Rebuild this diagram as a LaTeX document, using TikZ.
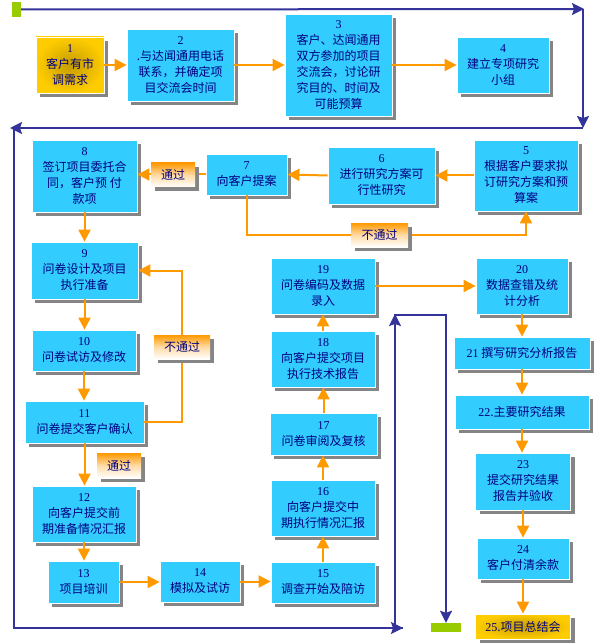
\documentclass[tikz,border=0pt]{standalone}
\usepackage{fontspec}
\setmainfont{Liberation Serif}
\newfontfamily\cjk{Noto Sans CJK SC}
\newfontfamily\numf{Liberation Serif}
\usetikzlibrary{arrows.meta,shadows}
\definecolor{skyb}{HTML}{33CCFF}
\definecolor{navyt}{HTML}{000080}
\definecolor{lineblue}{HTML}{333399}
\definecolor{orng}{HTML}{FF9900}
\definecolor{shgray}{HTML}{858585}
\definecolor{gold}{HTML}{FFCC00}
\definecolor{golddark}{HTML}{C49C00}
\definecolor{lgreen}{HTML}{99CC00}
\newcommand{\nmb}[1]{{\numf #1}}
\tikzset{
  box/.style={draw=white, line width=0.8pt, fill=skyb, text=navyt,
    font=\cjk\fontsize{12}{16}\selectfont, align=center, inner sep=0pt,
    drop shadow={shadow xshift=4pt, shadow yshift=-4pt, fill=shgray, opacity=1}},
  goldbox/.style={box, inner color=golddark, outer color=gold},
  passlab/.style={text=navyt, font=\cjk\fontsize{12}{16}\selectfont, inner sep=0pt,
    top color=orng, bottom color=white, middle color=orng!35,
    drop shadow={shadow xshift=4pt, shadow yshift=-4pt, fill=shgray, opacity=1}},
  oarrow/.style={draw=orng, line width=2pt, -{Triangle[length=12pt,width=12pt]}},
  oline/.style={draw=orng, line width=2pt},
  barrow/.style={draw=lineblue, line width=2pt, -{Stealth[length=12pt,width=12pt,inset=2pt]}},
  bline/.style={draw=lineblue, line width=2pt},
  gmark/.style={fill=lgreen, inner sep=0pt}
}
\begin{document}
\begin{tikzpicture}[x=1pt,y=-1pt]
\useasboundingbox[fill=white] (0,0) rectangle (594,644);

% ---------- boxes ----------
\node[goldbox, minimum width=68pt, minimum height=56pt] (n1) at (70,65) {\nmb{1}\\客户有市\\调需求};
\node[box, minimum width=107pt, minimum height=72pt] (n2) at (180.5,65) {\nmb{2}\\.与达闻通用电话\\联系，并确定项\\目交流会时间};
\node[box, minimum width=107pt, minimum height=102pt] (n3) at (338.5,65) {\nmb{3}\\客户、达闻通用\\双方参加的项目\\交流会，讨论研\\究目的、时间及\\可能预算};
\node[box, minimum width=92pt, minimum height=56pt] (n4) at (503,65) {\nmb{4}\\建立专项研究\\小组};

\node[box, minimum width=104pt, minimum height=71pt] (n5) at (526,175.5) {\nmb{5}\\根据客户要求拟\\订研究方案和预\\算案};
\node[box, minimum width=107pt, minimum height=57pt] (n6) at (381.5,175.5) {\nmb{6}\\进行研究方案可\\行性研究};
\node[box, minimum width=81pt, minimum height=41pt] (n7) at (246.5,174.5) {\nmb{7}\\向客户提案};
\node[box, minimum width=105pt, minimum height=72pt] (n8) at (84.5,176) {\nmb{8}\\签订项目委托合\\同，客户预 付\\款项};

\node[box, minimum width=107pt, minimum height=57pt] (n9) at (84.5,270.5) {\nmb{9}\\问卷设计及项目\\执行准备};
\node[box, minimum width=104pt, minimum height=41pt] (n10) at (84,350.5) {\nmb{10}\\问卷试访及修改};
\node[box, minimum width=119pt, minimum height=42pt] (n11) at (84.5,422) {\nmb{11}\\问卷提交客户确认};
\node[box, minimum width=104pt, minimum height=56pt] (n12) at (84,514) {\nmb{12}\\向客户提交前\\期准备情况汇报};
\node[box, minimum width=71pt, minimum height=42pt] (n13) at (83.5,582) {\nmb{13}\\项目培训};
\node[box, minimum width=80pt, minimum height=41pt] (n14) at (200,581.5) {\nmb{14}\\模拟及试访};
\node[box, minimum width=104pt, minimum height=41pt] (n15) at (323,582.5) {\nmb{15}\\调查开始及陪访};
\node[box, minimum width=104pt, minimum height=56pt] (n16) at (323,508) {\nmb{16}\\向客户提交中\\期执行情况汇报};
\node[box, minimum width=107pt, minimum height=42pt] (n17) at (323.5,434) {\nmb{17}\\问卷审阅及复核};
\node[box, minimum width=104pt, minimum height=56pt] (n18) at (323,359) {\nmb{18}\\向客户提交项目\\执行技术报告};
\node[box, minimum width=104pt, minimum height=56pt] (n19) at (323,286) {\nmb{19}\\问卷编码及数据\\录入};
\node[box, minimum width=92pt, minimum height=56pt] (n20) at (522,286) {\nmb{20}\\数据查错及统\\计分析};
\node[box, minimum width=136pt, minimum height=32pt] (n21) at (522,353) {\nmb{21} 撰写研究分析报告};
\node[box, minimum width=134pt, minimum height=34pt] (n22) at (522,412) {\nmb{22}.主要研究结果};
\node[box, minimum width=95pt, minimum height=57pt] (n23) at (523,481.5) {\nmb{23}\\提交研究结果\\报告并验收};
\node[box, minimum width=92pt, minimum height=41pt] (n24) at (523,558.5) {\nmb{24}\\客户付清余款};
\node[goldbox, minimum width=95pt, minimum height=25pt] (n25) at (523,626.5) {\nmb{25}.项目总结会};

% ---------- blue frame lines ----------
\node[gmark, minimum width=9pt, minimum height=15pt] (g1) at (16.5,9.5) {};
\node[gmark, minimum width=30pt, minimum height=9pt] (g2) at (446,627.5) {};
\coordinate (c1) at (584,9);
\coordinate (c2) at (583,128);
\coordinate (c3) at (10,128);
\coordinate (c3b) at (14,127);
\coordinate (c4) at (14,628);
\coordinate (c5) at (403,628);
\coordinate (c6) at (395,628);
\coordinate (c7) at (395,314);
\coordinate (c8) at (446,315);
\draw[barrow] (g1.east) -- (c1);
\draw[barrow] (583,9) -- (c2);
\draw[barrow] (c2) -- (c3);
\draw[bline] (c3b) -- (c4) -- (c5);
\draw[barrow] (c4) -- (c5);
\draw[barrow] (c6) -- (c7);
\draw[barrow] (394,315) -- (c8) -- (g2.north);

% ---------- orange connectors ----------
\draw[oarrow] (n1.east) -- (n2.west);
\draw[oarrow] (n2.east) -- (n3.west);
\draw[oarrow] (n3.east) -- (n4.west);
\draw[oarrow] (n5.west) -- (n6.east);
\draw[oarrow] (n6.west) -- (n7.east);
\draw[oarrow] (n7.west) -- (n7.west -| n8.east);
\coordinate (c9) at (379.5,235);
\draw[oarrow] (n7.south) |- (c9) -| (n5.south);
\draw[oarrow] (n8.south) -- (n8.south |- n9.north);
\draw[oarrow] (n9.south) -- (n9.south |- n10.north);
\draw[oarrow] (n10.south) -- (n10.south |- n11.north);
\coordinate (c10) at (182,347);
\draw[oarrow] (n11.east) -| (c10) |- (n9.east);
\draw[oarrow] (n11.south) -- (n11.south |- n12.north);
\draw[oarrow] (n12.south) -- (n12.south |- n13.north);
\draw[oarrow] (n13.east) -- (n13.east -| n14.west);
\draw[oarrow] (n14.east) -- (n14.east -| n15.west);
\draw[oarrow] (n15.north) -- (n15.north |- n16.south);
\draw[oarrow] (n16.north) -- (n16.north |- n17.south);
\draw[oarrow] (n17.north) -- (n17.north |- n18.south);
\draw[oarrow] (n18.north) -- (n18.north |- n19.south);
\draw[oarrow] (n19.east) -- (n20.west);
\draw[oarrow] (n20.south) -- (n20.south |- n21.north);
\draw[oarrow] (n21.south) -- (n21.south |- n22.north);
\draw[oarrow] (n22.south) -- (n22.south |- n23.north);
\draw[oarrow] (n23.south) -- (n23.south |- n24.north);
\draw[oarrow] (n24.south) -- (n24.south |- n25.north);

% ---------- labels ----------
\node[passlab, minimum width=44pt, minimum height=24pt] (l1) at (173,175) {通过};
\node[passlab, minimum width=57pt, minimum height=24pt] (l2) at (c9) {不通过};
\node[passlab, minimum width=56pt, minimum height=24pt] (l3) at (c10) {不通过};
\node[passlab, minimum width=44pt, minimum height=25pt] (l4) at (119,465.5) {通过};
\end{tikzpicture}
\end{document}
